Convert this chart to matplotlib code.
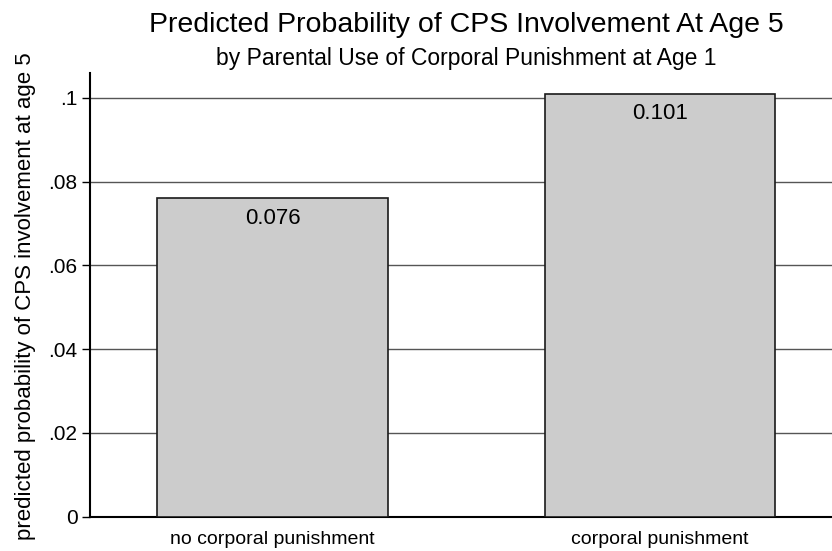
import numpy as np
import matplotlib
matplotlib.use("Agg")
import matplotlib.pyplot as plt

plt.rcParams['font.family'] = ['Liberation Sans', 'DejaVu Sans']

# data
categories = ['no corporal punishment', 'corporal punishment']
probabilities = [0.076, 0.101]
y_ticks = [0, 0.02, 0.04, 0.06, 0.08, 0.1]
y_tick_labels = ['0', '.02', '.04', '.06', '.08', '.1']

fig = plt.figure(figsize=(8.32, 5.51), dpi=100)
# axes runs slightly past the right edge, like the cropped original
ax = fig.add_axes([0.1082, 0.0622, 0.9044, 0.8053])

x = np.arange(len(categories))
ax.bar(x, probabilities, width=0.596, color='#cccccc',
       edgecolor='#1a1a1a', linewidth=1.2, zorder=3)

for xi, val in zip(x, probabilities):
    ax.text(xi, val - 0.0048, f'{val:.3f}', ha='center', va='center',
            fontsize=16, color='black', zorder=4)

ax.set_xlim(-0.471, 1.471)
ax.set_ylim(0, 0.1059)
ax.set_yticks(y_ticks)
ax.set_yticklabels(y_tick_labels, fontsize=15)
ax.set_xticks(x)
ax.set_xticklabels(categories, fontsize=14)
ax.tick_params(axis='x', length=0, pad=10)
ax.tick_params(axis='y', length=6, width=1.0, direction='out', pad=3)

ax.yaxis.grid(True, color='#555555', linewidth=1.0, zorder=0)
ax.set_axisbelow(True)
for side in ['top', 'right']:
    ax.spines[side].set_visible(False)
ax.spines['left'].set_linewidth(1.5)
ax.spines['bottom'].set_linewidth(1.5)

fig.text(0.031, 0.462, 'predicted probability of CPS involvement at age 5',
         rotation=90, ha='center', va='center', fontsize=16)

fig.text(0.56, 0.942, 'Predicted Probability of CPS Involvement At Age 5',
         ha='center', va='baseline', fontsize=20.5)
fig.text(0.56, 0.882, 'by Parental Use of Corporal Punishment at Age 1',
         ha='center', va='baseline', fontsize=16.5)

fig.savefig('out.png', dpi=100)
plt.close(fig)
